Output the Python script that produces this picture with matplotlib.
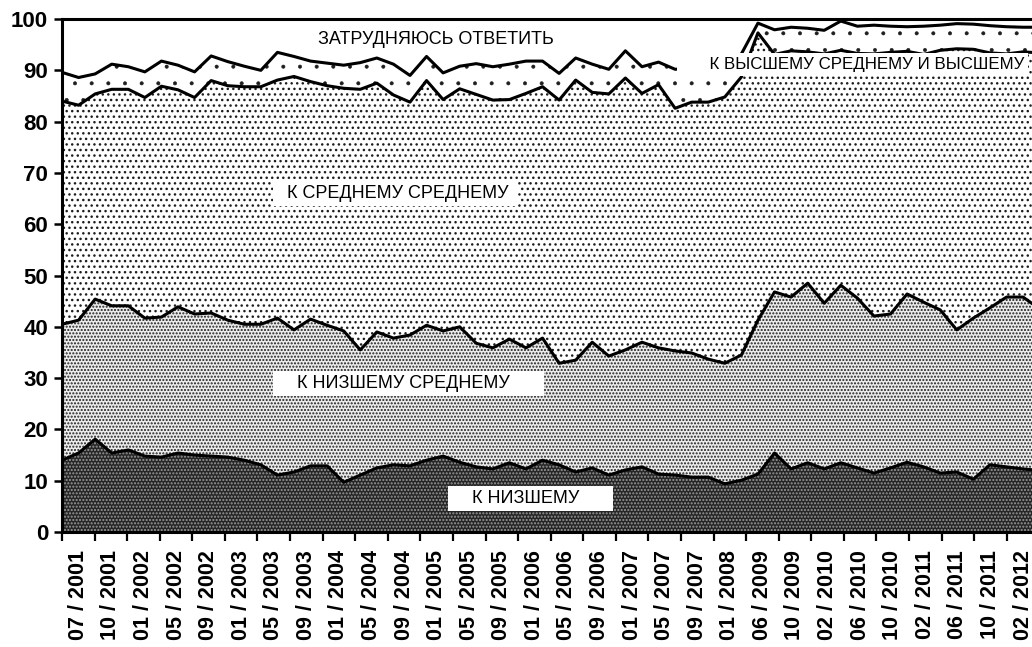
import numpy as np
import matplotlib
matplotlib.use("Agg")
import matplotlib.pyplot as plt

plt.rcParams["font.family"] = ["Liberation Sans", "DejaVu Sans"]

# survey labels, one per label slot on the x axis
periods = ["07 / 2001", "10 / 2001", "01 / 2002", "05 / 2002", "09 / 2002",
           "01 / 2003", "05 / 2003", "09 / 2003", "01 / 2004", "05 / 2004",
           "09 / 2004", "01 / 2005", "05 / 2005", "09 / 2005", "01 / 2006",
           "05 / 2006", "09 / 2006", "01 / 2007", "05 / 2007", "09 / 2007",
           "01 / 2008", "06 / 2009", "10 / 2009", "02 / 2010", "06 / 2010",
           "10 / 2010", "02 / 2011", "06 / 2011", "10 / 2011", "02 / 2012"]

# shares, %, bottom to top
lowest = [14.0, 15.4, 18.1, 15.4, 16.0, 14.8, 14.6, 15.4, 15.0, 14.8,
          14.6, 14.0, 13.1, 11.1, 11.7, 12.9, 12.9, 9.7, 11.1, 12.5,
          13.1, 12.9, 14.0, 14.8, 13.6, 12.7, 12.3, 13.5, 12.3, 14.0,
          13.1, 11.7, 12.5, 11.1, 12.1, 12.7, 11.3, 11.1, 10.7, 10.7,
          9.4, 10.1, 11.3, 15.4, 12.3, 13.5, 12.3, 13.5, 12.5, 11.5,
          12.5, 13.6, 12.7, 11.5, 11.7, 10.3, 13.1, 12.7, 12.3, 12.0]
lower_middle = [26.5, 25.9, 27.3, 28.7, 28.1, 26.9, 27.3, 28.5, 27.5, 27.9,
                26.7, 26.5, 27.4, 30.6, 27.7, 28.6, 27.4, 29.5, 24.4, 26.5,
                24.7, 25.5, 26.3, 24.4, 26.4, 24.1, 23.6, 24.1, 23.6, 23.8,
                19.8, 21.8, 24.5, 23.2, 23.4, 24.3, 24.6, 24.2, 24.2, 23.0,
                23.5, 24.4, 30.0, 31.4, 33.5, 35.0, 32.3, 34.6, 33.1, 30.6,
                30.0, 32.8, 32.1, 31.8, 27.7, 31.4, 30.6, 33.1, 33.5, 31.5]
middle = [43.5, 41.9, 40.0, 42.2, 42.2, 43.0, 45.0, 42.3, 42.2, 45.3,
          45.7, 46.3, 46.3, 46.4, 49.4, 46.3, 46.7, 47.3, 50.8, 48.5,
          47.4, 45.4, 47.7, 45.1, 46.4, 48.5, 48.3, 46.7, 49.6, 49.0,
          51.3, 54.6, 48.7, 51.1, 53.0, 48.5, 51.3, 47.3, 48.9, 50.1,
          51.9, 54.2, 56.0, 46.3, 48.0, 45.1, 48.6, 45.8, 47.7, 51.1,
          51.0, 47.3, 48.3, 50.6, 54.8, 52.4, 49.7, 47.4, 47.8, 49.9]
upper = [5.6, 5.4, 3.9, 4.9, 4.4, 5.0, 4.9, 4.8, 5.0, 4.8,
         4.7, 4.0, 3.2, 5.4, 3.9, 4.0, 4.4, 4.5, 5.2, 4.9,
         6.0, 5.2, 4.7, 5.2, 4.4, 6.0, 6.5, 6.9, 6.3, 5.0,
         5.2, 4.3, 5.5, 4.8, 5.3, 5.2, 4.4, 7.6, 6.7, 7.2,
         6.7, 4.5, 1.9, 4.8, 4.6, 4.6, 4.6, 5.7, 5.3, 5.6,
         5.1, 4.8, 5.5, 4.9, 4.9, 4.9, 5.3, 5.3, 4.8, 5.0]

SLOT = 1.966  # surveys per label slot on the axis

x = np.arange(len(lowest))
tops = np.cumsum(np.vstack([lowest, lower_middle, middle, upper]), axis=0)
bottoms = np.vstack([np.zeros(len(x)), tops[:-1]])

styles = [
    dict(facecolor="#262626", edgecolor="#9a9a9a", hatch=".....", hlw=1.0),
    dict(facecolor="#ececec", edgecolor="#1e1e1e", hatch=".....", hlw=1.0),
    dict(facecolor="white", edgecolor="#1e1e1e", hatch="...", hlw=1.0),
    dict(facecolor="white", edgecolor="#1e1e1e", hatch=".", hlw=0.4),
]

fig = plt.figure(figsize=(10.32, 6.47), dpi=100)
ax = fig.add_axes([0.0601, 0.1777, 0.9473, 0.7929])

for lo, hi, st in zip(bottoms, tops, styles):
    st = dict(st)
    hlw = st.pop("hlw")
    with plt.rc_context({"hatch.linewidth": hlw}):
        coll = ax.fill_between(x, lo, hi, linewidth=0, zorder=1, **st)
    if hasattr(coll, "set_hatch_linewidth"):
        coll.set_hatch_linewidth(hlw)
for hi in tops:
    ax.plot(x, hi, color="black", lw=2.2, zorder=2)

ax.set_xlim(0, len(x) - 1)
ax.set_ylim(0, 100)

edges = np.arange(len(periods) + 1) * SLOT
ax.set_xticks(edges)
ax.set_xticklabels([])
ax.set_xticks(edges[:-1] + SLOT / 2, minor=True)
ax.set_xticklabels(periods, minor=True, rotation=90, fontsize=15.5)
ax.tick_params(axis="x", which="major", length=6.5, width=1.6, direction="out")
ax.tick_params(axis="x", which="minor", length=0, pad=13)

ax.set_yticks(range(0, 101, 10))
ax.tick_params(axis="y", length=6, width=1.8, pad=4, labelsize=16)
for lab in ax.get_yticklabels() + ax.get_xticklabels(minor=True):
    lab.set_fontweight("bold")

for side in ["left", "bottom", "top"]:
    ax.spines[side].set_linewidth(2.2)
ax.spines["right"].set_visible(False)

box = dict(facecolor="white", edgecolor="none", boxstyle="square,pad=0.22")
kw = dict(fontsize=13, ha="left", va="center", zorder=5)
ax.text(15.45, 96.1, "ЗАТРУДНЯЮСЬ ОТВЕТИТЬ", **kw)
ax.text(12.98, 66.0, "  К СРЕДНЕМУ СРЕДНЕМУ ", bbox=box, **kw)
ax.text(12.98, 28.95, "    К НИЗШЕМУ СРЕДНЕМУ      ", bbox=box, **kw)
ax.text(23.54, 6.5, "    К НИЗШЕМУ      ", bbox=box, **kw)
kw["fontsize"] = 12.2
ax.text(37.36, 91.1, "      К ВЫСШЕМУ СРЕДНЕМУ И ВЫСШЕМУ", bbox=box, **kw)

fig.savefig("out.png", dpi=100, facecolor="white")
